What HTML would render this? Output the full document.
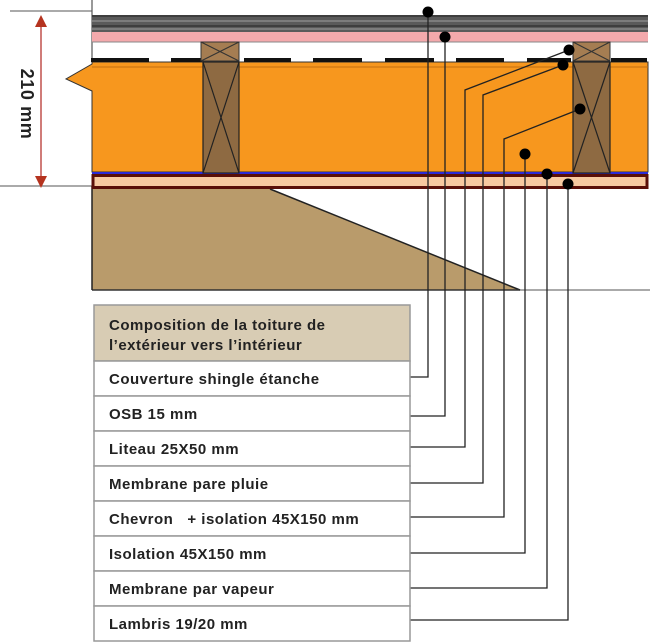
<!DOCTYPE html>
<html><head><meta charset="utf-8"><style>
body{margin:0;background:#fff;}
svg{display:block;}
text{font-family:"Liberation Sans",sans-serif;font-weight:bold;fill:#222;}
</style></head><body>
<svg width="650" height="644" viewBox="0 0 650 644" xmlns="http://www.w3.org/2000/svg">
<line x1="92" y1="0" x2="92" y2="62" stroke="#333" stroke-width="1"/>
<line x1="10" y1="11" x2="92" y2="11" stroke="#555" stroke-width="1"/>
<line x1="0" y1="186" x2="92" y2="186" stroke="#555" stroke-width="1"/>
<line x1="41" y1="26" x2="41" y2="178" stroke="#c0504d" stroke-width="1.5"/>
<polygon points="41,15 35,27 47,27" fill="#b5331f"/>
<polygon points="41,188 35,176 47,176" fill="#b5331f"/>
<text x="0" y="0" font-size="18" letter-spacing="0.6" transform="translate(21,104) rotate(90)" text-anchor="middle">210 mm</text>
<polygon points="92,189 270,189 520,290 92,290" fill="#b99b6b"/>
<line x1="270" y1="189" x2="520" y2="290" stroke="#222" stroke-width="1.5"/>
<line x1="92" y1="290" x2="520" y2="290" stroke="#333" stroke-width="1.5"/>
<line x1="520" y1="290" x2="650" y2="290" stroke="#555" stroke-width="1"/>
<line x1="92" y1="186" x2="92" y2="290" stroke="#222" stroke-width="1.5"/>
<rect x="92" y="15" width="556" height="17" fill="#5a5a5a"/>
<line x1="92" y1="16" x2="648" y2="16" stroke="#222" stroke-width="1"/>
<line x1="92" y1="21" x2="648" y2="21" stroke="#888" stroke-width="1.5"/>
<line x1="92" y1="26" x2="648" y2="26" stroke="#222" stroke-width="1"/>
<line x1="92" y1="29" x2="648" y2="29" stroke="#888" stroke-width="1.5"/>
<rect x="92" y="32" width="556" height="10" fill="#f4a9ac"/>
<line x1="92" y1="42" x2="648" y2="42" stroke="#888" stroke-width="1"/>
<polygon points="92,62 648,62 648,172 92,172 92,91 66,79 92,64" fill="#f7971e" stroke="#333" stroke-width="1"/>
<line x1="92" y1="67" x2="648" y2="67" stroke="#c36f10" stroke-width="1"/>
<g stroke="#111" stroke-width="4">
<line x1="91" y1="60" x2="149" y2="60"/><line x1="171" y1="60" x2="202" y2="60"/>
<line x1="244" y1="60" x2="291" y2="60"/><line x1="313" y1="60" x2="362" y2="60"/>
<line x1="385" y1="60" x2="434" y2="60"/><line x1="456" y1="60" x2="504" y2="60"/>
<line x1="527" y1="60" x2="571" y2="60"/><line x1="611" y1="60" x2="647" y2="60"/>
</g>
<line x1="92" y1="173" x2="648" y2="173" stroke="#2a2ad8" stroke-width="2"/>
<rect x="93" y="175.5" width="554" height="12" fill="#f7c9a0" stroke="#5a0f08" stroke-width="3"/>
<g stroke="#222" stroke-width="1.2" fill="#8e6a42">
<rect x="203" y="62" width="36" height="111"/><line x1="203" y1="62" x2="239" y2="173"/><line x1="239" y1="62" x2="203" y2="173"/>
<rect x="573" y="62" width="37" height="111"/><line x1="573" y1="62" x2="610" y2="173"/><line x1="610" y1="62" x2="573" y2="173"/>
</g>
<g stroke="#333" stroke-width="1" fill="#a57d52">
<rect x="201" y="42" width="38" height="19"/><line x1="201" y1="42" x2="239" y2="61"/><line x1="239" y1="42" x2="201" y2="61"/>
<rect x="573" y="42" width="37" height="19"/><line x1="573" y1="42" x2="610" y2="61"/><line x1="610" y1="42" x2="573" y2="61"/>
</g>
<g stroke="#222" stroke-width="1.3" fill="none">
<polyline points="428,12 428,377 410,377"/>
<polyline points="445,37 445,416 410,416"/>
<polyline points="569,50 465,90 465,447 410,447"/>
<polyline points="563,65 483,95 483,483 410,483"/>
<polyline points="580,109 504,139 504,517 410,517"/>
<polyline points="525,154 525,553 410,553"/>
<polyline points="547,174 547,588 410,588"/>
<polyline points="568,184 568,620 410,620"/>
</g>
<g fill="#000">
<circle cx="428" cy="12" r="5.5"/><circle cx="445" cy="37" r="5.5"/>
<circle cx="569" cy="50" r="5.5"/><circle cx="563" cy="65" r="5.5"/>
<circle cx="580" cy="109" r="5.5"/><circle cx="525" cy="154" r="5.5"/>
<circle cx="547" cy="174" r="5.5"/><circle cx="568" cy="184" r="5.5"/>
</g>
<rect x="94" y="305" width="316" height="56" fill="#d8ccb4" stroke="#999" stroke-width="1.5"/>
<g font-size="15" letter-spacing="0.5">
<text x="109" y="330">Composition de la toiture de</text>
<text x="109" y="350">l’extérieur vers l’intérieur</text>
</g>
<g stroke="#999" stroke-width="1.5" fill="#fff">
<rect x="94" y="361" width="316" height="35"/><rect x="94" y="396" width="316" height="35"/>
<rect x="94" y="431" width="316" height="35"/><rect x="94" y="466" width="316" height="35"/>
<rect x="94" y="501" width="316" height="35"/><rect x="94" y="536" width="316" height="35"/>
<rect x="94" y="571" width="316" height="35"/><rect x="94" y="606" width="316" height="35"/>
</g>
<g font-size="15" letter-spacing="0.5">
<text x="109" y="384">Couverture shingle étanche</text>
<text x="109" y="419">OSB 15 mm</text>
<text x="109" y="454">Liteau 25X50 mm</text>
<text x="109" y="489">Membrane pare pluie</text>
<text x="109" y="524" xml:space="preserve">Chevron   + isolation 45X150 mm</text>
<text x="109" y="559">Isolation 45X150 mm</text>
<text x="109" y="594">Membrane par vapeur</text>
<text x="109" y="629">Lambris 19/20 mm</text>
</g>
</svg>
</body></html>
